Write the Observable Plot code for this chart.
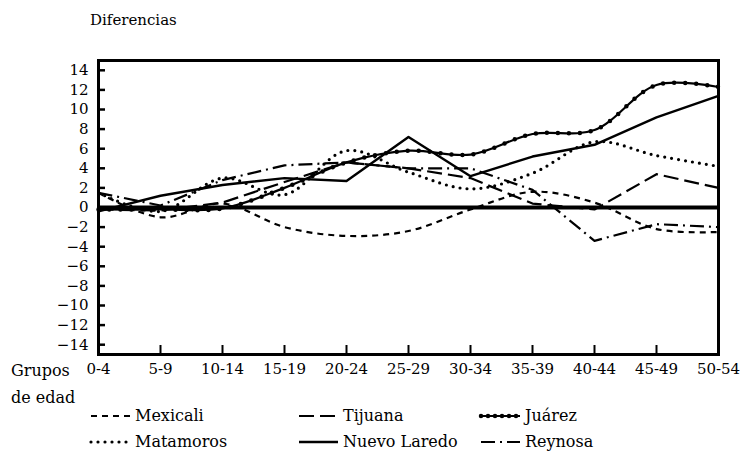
<!DOCTYPE html>
<html>
<head>
<meta charset="utf-8">
<script src="https://cdn.jsdelivr.net/npm/d3@7"></script>
<script src="https://cdn.jsdelivr.net/npm/@observablehq/plot@0.6"></script>
<style>
  body { margin: 0; background: #fff; font-family: 'DejaVu Serif', serif; color: #000; }
  #wrap { position: relative; width: 746px; height: 456px; overflow: hidden; background: #fff; }
  #title { position: absolute; left: 90px; top: 11px; font-size: 15px; }
  #chart { position: absolute; left: 0; top: 40px; }
  .lab { position: absolute; font-size: 16px; white-space: nowrap; }
  .leg { position: absolute; font-size: 16px; display: flex; align-items: center; white-space: nowrap; }
  .leg svg { margin-right: 3px; }
</style>
</head>
<body>
<div id="wrap">
  <div id="title">Diferencias</div>
  <div id="chart"></div>
  <div class="lab" style="left:11px; top:361px;">Grupos</div>
  <div class="lab" style="left:11px; top:388px;">de edad</div>
  <div id="legend"></div>
</div>
<script>
// ---- data ----
const ages = ["0-4","5-9","10-14","15-19","20-24","25-29","30-34","35-39","40-44","45-49","50-54"];
const yTicks = [-14,-12,-10,-8,-6,-4,-2,0,2,4,6,8,10,12,14];
const mexicali     = [1.5, -1.0, 0.4, -2.0, -2.9, -2.4, -0.2, 1.6, 0.5, -2.2, -2.5];
const tijuana      = [-0.2, -0.3, 0.5, 2.6, 4.6, 4.0, 3.0, 0.4, -0.2, 3.4, 2.0];
const juarez       = [-0.2, -0.2, -0.1, 2.0, 4.6, 5.8, 5.4, 7.5, 7.9, 12.5, 12.3];
const matamoros    = [1.5, -0.4, 3.0, 1.3, 5.8, 3.6, 1.9, 3.5, 6.7, 5.3, 4.2];
const nuevoLaredo  = [-0.4, 1.2, 2.3, 3.0, 2.7, 7.2, 3.2, 5.2, 6.4, 9.2, 11.4];
const reynosa      = [1.5, 0.2, 2.8, 4.3, 4.6, 4.0, 4.0, 1.8, -3.4, -1.7, -2.0];

const seriesNames = ["Mexicali","Tijuana","Juárez","Matamoros","Nuevo Laredo","Reynosa"];
const seriesValues = [mexicali, tijuana, juarez, matamoros, nuevoLaredo, reynosa];

// ---- styles (separate from data) ----
const styles = {
  "Mexicali":     {dash: "6,5", width: 2.2, curve: "catmull-rom", cap: "butt"},
  "Tijuana":      {dash: "15,6", width: 2.2, curve: "linear", cap: "butt"},
  "Juárez":       {dash: null, width: 2.2, curve: "catmull-rom", cap: "butt", dots: true},
  "Matamoros":    {dash: "0,7", width: 3.2, curve: "catmull-rom", cap: "round"},
  "Nuevo Laredo": {dash: null, width: 2.4, curve: "linear", cap: "butt"},
  "Reynosa":      {dash: "14,5,2,5", width: 2.2, curve: "linear", cap: "butt"}
};

const rows = seriesNames.flatMap((name, k) =>
  seriesValues[k].map((v, i) => ({city: name, age: ages[i], value: v})));

const fmt = d => d < 0 ? "\u2212" + Math.abs(d) : String(d);

const lineMarks = seriesNames.flatMap(name => {
  const s = styles[name];
  const data = rows.filter(r => r.city === name);
  const base = Plot.line(data, {
    x: "age", y: "value", stroke: "black", strokeWidth: s.width,
    strokeDasharray: s.dash, strokeLinecap: s.cap, curve: s.curve
  });
  if (!s.dots) return [base];
  return [base, Plot.line(data, {
    x: "age", y: "value", stroke: "black", strokeWidth: 4.5,
    strokeDasharray: "0,11", strokeLinecap: "round", curve: s.curve
  })];
});

const chart = Plot.plot({
  width: 746,
  height: 340,
  marginLeft: 98,
  marginRight: 28,
  marginTop: 20,
  marginBottom: 26,
  style: {fontFamily: "'DejaVu Serif', serif", fontSize: "15px", color: "black", background: "white", overflow: "visible"},
  x: {type: "point", domain: ages, padding: 0, label: null},
  y: {domain: [-15, 15], label: null},
  marks: [
    Plot.ruleY([0], {stroke: "black", strokeWidth: 4}),
    ...lineMarks,
    Plot.axisY(yTicks, {tickSize: -7, tickPadding: 17, strokeWidth: 2.5, tickFormat: fmt, label: null, fontSize: 15}),
    Plot.axisX(ages, {tickSize: -9, tickPadding: 18, strokeWidth: 2, label: null, fontSize: 15}),
    Plot.frame({stroke: "black", strokeWidth: 3})
  ]
});
document.getElementById("chart").appendChild(chart);

// ---- legend ----
const legendPos = {
  "Mexicali":     {left: 88,  top: 406},
  "Tijuana":      {left: 296, top: 406},
  "Juárez":       {left: 478, top: 406},
  "Matamoros":    {left: 88,  top: 432},
  "Nuevo Laredo": {left: 296, top: 432},
  "Reynosa":      {left: 478, top: 432}
};
const legend = document.getElementById("legend");
seriesNames.forEach(name => {
  const s = styles[name];
  const p = legendPos[name];
  const div = document.createElement("div");
  div.className = "leg";
  div.style.left = p.left + "px";
  div.style.top = p.top + "px";
  const ns = "http://www.w3.org/2000/svg";
  const svg = document.createElementNS(ns, "svg");
  svg.setAttribute("width", 44); svg.setAttribute("height", 12);
  const ln = document.createElementNS(ns, "line");
  ln.setAttribute("x1", 3); ln.setAttribute("x2", 42); ln.setAttribute("y1", 6); ln.setAttribute("y2", 6);
  ln.setAttribute("stroke", "black"); ln.setAttribute("stroke-width", s.width);
  if (s.dash) ln.setAttribute("stroke-dasharray", s.dash);
  ln.setAttribute("stroke-linecap", s.cap);
  svg.appendChild(ln);
  if (s.dots) {
    const d2 = ln.cloneNode();
    d2.setAttribute("stroke-width", 4.5); d2.setAttribute("stroke-dasharray", "0,7"); d2.setAttribute("stroke-linecap", "round");
    svg.appendChild(d2);
  }
  div.appendChild(svg);
  div.appendChild(document.createTextNode(name));
  legend.appendChild(div);
});
</script>
</body>
</html>
